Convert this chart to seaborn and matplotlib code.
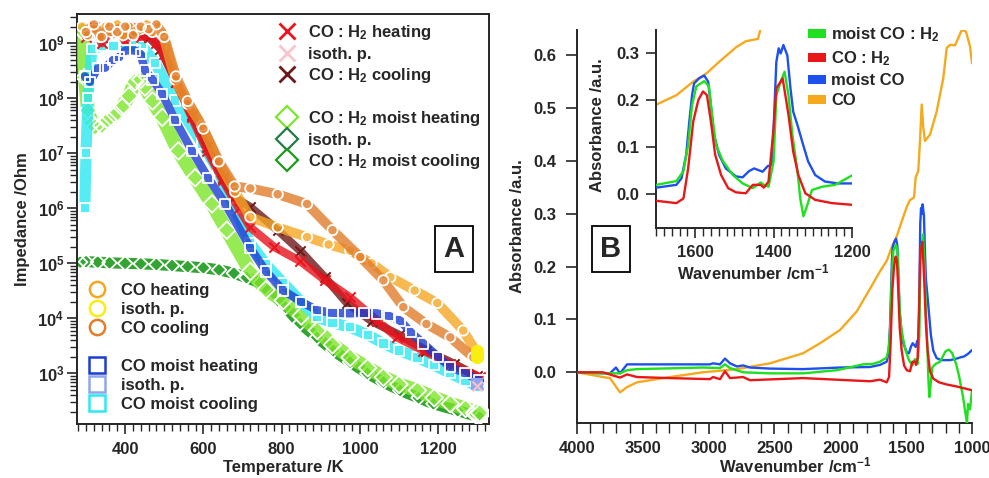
import numpy as np
import pandas as pd
import matplotlib
matplotlib.use("Agg")
import matplotlib.pyplot as plt
import seaborn as sns
from matplotlib.lines import Line2D
from matplotlib.patches import Patch
from matplotlib.ticker import MultipleLocator, LogLocator, NullFormatter, FormatStrFormatter

# ---------------- Panel A data (Temperature / K, Impedance / Ohm) ----------------
co_heat_T = [290, 305, 320, 335, 350, 365, 380, 395, 410, 425, 440, 455, 470, 485, 495,
             528, 560, 597, 638, 681, 720, 790, 865, 920, 975, 1030, 1078, 1140, 1198, 1264, 1300]
co_heat_Z = [2.0e9, 1.4e9, 1.8e9, 1.3e9, 2.0e9, 1.6e9, 2.2e9, 1.4e9, 2.0e9, 1.6e9, 1.8e9, 2.2e9, 1.6e9, 2.0e9, 1.6e9,
             2.2e8, 7.9e7, 3.2e7, 7.1e6, 2.0e6, 6.9e5, 4.5e5, 3.0e5, 2.2e5, 1.7e5, 1.0e5, 5.6e4, 3.2e4, 1.9e4, 6.0e3, 2.3e3]

co_cool_T = [300, 320, 340, 360, 380, 400, 420, 440, 460, 480, 500,
             530, 560, 600, 640, 680, 720, 790, 865, 930, 1001, 1060, 1111, 1170, 1231, 1290]
co_cool_Z = [1.6e9, 2.2e9, 1.3e9, 2.0e9, 1.6e9, 2.0e9, 1.4e9, 2.0e9, 1.8e9, 2.2e9, 1.3e9,
             2.5e8, 8.9e7, 2.8e7, 7.1e6, 2.5e6, 2.3e6, 1.8e6, 1.2e6, 4.0e5, 1.3e5, 4.9e4, 1.6e4, 7.9e3, 4.5e3, 1.95e3]

h2_heat_T = [300, 320, 340, 360, 380, 400, 420, 440, 460, 480,
             500, 530, 570, 610, 650, 690, 720, 780, 847, 910, 975, 1044, 1095, 1162, 1231, 1306]
h2_heat_Z = [1.3e9, 2.0e9, 1.0e9, 1.6e9, 1.8e9, 1.1e9, 2.0e9, 1.3e9, 1.4e9, 1.0e9,
             6.3e8, 2.0e8, 4.5e7, 1.1e7, 3.2e6, 1.0e6, 4.5e5, 2.0e5, 1.1e5, 5.0e4, 2.4e4, 9.1e3, 4.5e3, 2.6e3, 1.5e3, 8.5e2]

h2_cool_T = [310, 340, 370, 400, 430, 460, 490, 530, 570, 610, 650, 678,
             720, 790, 847, 910, 967, 1030, 1100, 1170, 1240, 1300]
h2_cool_Z = [1.6e9, 1.3e9, 1.8e9, 1.4e9, 1.6e9, 1.3e9, 7.9e8, 2.0e8, 5.0e7, 1.3e7, 3.5e6, 1.6e6,
             1.05e6, 4.0e5, 1.7e5, 5.6e4, 1.9e4, 8.9e3, 5.0e3, 2.6e3, 1.5e3, 8.9e2]

moist_heat_T = [297, 310, 330, 349, 370, 385, 400, 425, 440, 451, 470, 495, 528, 571, 612, 656,
                720, 760, 804, 850, 891, 930, 975, 1010, 1044, 1075, 1103, 1130, 1162, 1200, 1231, 1270, 1306]
moist_heat_Z = [2.5e8, 2.0e8, 3.5e8, 3.6e8, 5.0e8, 5.6e8, 7.4e8, 7.4e8, 6.3e8, 3.2e8, 2.2e8, 1.2e8, 4.0e7, 1.1e7, 3.6e6, 1.2e6,
                1.9e5, 7.1e4, 3.2e4, 2.0e4, 1.4e4, 1.26e4, 1.23e4, 1.26e4, 1.23e4, 1.1e4, 9.1e3, 5.6e3, 3.5e3, 2.0e3, 1.3e3, 1.0e3, 7.4e2]

moist_cool_T = [297, 300, 305, 315, 340, 370, 400, 443, 477, 528, 597, 638, 680,
                720, 760, 804, 850, 891, 930, 975, 1020, 1060, 1100, 1147, 1190, 1231, 1270, 1306]
moist_cool_Z = [1.0e6, 1.0e7, 1.0e8, 7.9e8, 8.9e8, 8.9e8, 8.9e8, 8.9e8, 4.4e8, 9.1e7, 1.5e7, 4.9e6, 1.0e6,
                2.3e5, 9.5e4, 4.4e4, 2.0e4, 1.05e4, 8.3e3, 6.9e3, 5.0e3, 3.5e3, 2.6e3, 1.95e3, 1.4e3, 1.0e3, 7.4e2, 5.6e2]

h2m_heat_T = [290, 297, 305, 315, 323, 340, 356, 375, 392, 410, 425, 440, 451, 470, 495, 536, 579, 622, 660,
              720, 760, 804, 850, 891, 930, 975, 1020, 1060, 1100, 1147, 1190, 1231, 1270, 1306]
h2m_heat_Z = [1.7e9, 2.4e8, 6.0e7, 3.5e7, 3.0e7, 3.2e7, 4.0e7, 5.0e7, 6.9e7, 1.1e8, 2.0e8, 2.2e8, 1.6e8, 8.9e7, 4.5e7, 1.1e7, 3.6e6, 1.2e6, 4.0e5,
              7.1e4, 3.3e4, 2.1e4, 1.1e4, 6.0e3, 3.3e3, 1.95e3, 1.26e3, 8.5e2, 6.3e2, 4.9e2, 3.6e2, 2.8e2, 2.3e2, 1.9e2]

h2m_cool_T = [285, 300, 330, 360, 400, 440, 480, 520, 560, 600, 640, 678, 710, 745, 780, 810,
              847, 890, 932, 975, 1019, 1060, 1103, 1150, 1188, 1250, 1306]
h2m_cool_Z = [1.05e5, 1.07e5, 1.05e5, 1.02e5, 1.0e5, 9.8e4, 9.5e4, 9.1e4, 8.7e4, 8.3e4, 7.6e4, 6.6e4, 5.5e4, 4.4e4, 2.8e4, 1.6e4,
              8.1e3, 4.5e3, 2.6e3, 1.6e3, 1.0e3, 6.9e2, 4.9e2, 3.6e2, 2.8e2, 2.1e2, 1.6e2]

iso_co_T = [1300, 1300, 1300]
iso_co_Z = [2.0e3, 2.3e3, 2.6e3]
iso_moist_T = [1300]
iso_moist_Z = [6.3e2]
iso_h2_T = [1300]
iso_h2_Z = [6.0e2]
iso_h2m_T = [1303]
iso_h2m_Z = [1.9e2]

# ---------------- Panel B data (wavenumber / cm-1, absorbance / a.u.) ----------------
co_wn = [4000, 3802, 3750, 3696, 3673, 3620, 3544, 3294, 3043, 2785, 2534, 2283, 2154, 2003, 1876, 1775,
         1699, 1648, 1605, 1572, 1539, 1496, 1471, 1440, 1428, 1408, 1395, 1382, 1370, 1357, 1319,
         1268, 1218, 1192, 1167, 1129, 1104, 1078, 1046, 1015, 1000]
co_abs = [0.0, -0.009, -0.011, -0.030, -0.038, -0.028, -0.019, -0.009, 0.0, 0.006, 0.017, 0.036, 0.055, 0.080, 0.115, 0.158,
          0.191, 0.211, 0.240, 0.257, 0.282, 0.313, 0.326, 0.331, 0.369, 0.381, 0.438, 0.507, 0.463, 0.438, 0.450,
          0.494, 0.557, 0.614, 0.620, 0.619, 0.633, 0.648, 0.645, 0.617, 0.585]

moist_co_wn = [4000, 3802, 3750, 3704, 3673, 3620, 3294, 2990, 2967, 2914,
               2876, 2838, 2785, 2739, 2686, 2534, 2283, 2003, 1775, 1699,
               1648, 1635, 1623, 1615, 1608, 1603, 1590, 1577, 1567, 1560,
               1552, 1539, 1522, 1496, 1479, 1463, 1450, 1428, 1415, 1405,
               1400, 1393, 1387, 1382, 1375, 1365, 1357, 1350, 1339, 1327,
               1312, 1294, 1269, 1236, 1193, 1167, 1130, 1091, 1060, 1030, 1000]
moist_co_abs = [0.0, -0.002, -0.002, 0.009, -0.002, 0.015, 0.015, 0.015, 0.017, 0.015,
                0.026, 0.017, 0.011, 0.013, 0.009, 0.007, 0.006, 0.009, 0.010, 0.014,
                0.020, 0.034, 0.084, 0.155, 0.211, 0.236, 0.247, 0.253, 0.240, 0.190,
                0.126, 0.084, 0.055, 0.038, 0.036, 0.049, 0.055, 0.048, 0.060, 0.062,
                0.140, 0.282, 0.311, 0.300, 0.318, 0.296, 0.226, 0.176, 0.147, 0.112,
                0.070, 0.041, 0.027, 0.023, 0.023, 0.023, 0.025, 0.028, 0.030, 0.035, 0.042]

moist_h2_wn = [4000, 3802, 3673, 3620, 3544, 3043, 2914, 2876, 2838, 2739,
               2534, 2283, 2025, 1828, 1752, 1699, 1648, 1630, 1618, 1608,
               1597, 1577, 1565, 1557, 1547, 1529, 1504, 1479, 1453, 1433,
               1425, 1413, 1400, 1393, 1382, 1372, 1362, 1352, 1339, 1332,
               1324, 1314, 1302, 1276, 1243, 1200, 1175, 1150, 1120, 1100,
               1068, 1045, 1038, 1030, 1015, 1000]
moist_h2_abs = [0.0, -0.002, -0.002, 0.004, 0.006, 0.009, 0.008, 0.015, 0.008, 0.0,
                -0.002, -0.002, 0.004, 0.015, 0.016, 0.020, 0.028, 0.049, 0.105, 0.190,
                0.230, 0.241, 0.230, 0.169, 0.105, 0.070, 0.041, 0.023, 0.013, 0.025,
                0.020, 0.016, 0.070, 0.211, 0.240, 0.261, 0.211, 0.126, 0.048, -0.009,
                -0.047, -0.023, 0.009, 0.016, 0.020, 0.040, 0.043, 0.036, 0.015, -0.005,
                -0.047, -0.085, -0.096, -0.060, -0.070, -0.034]

h2_wn = [4000, 3802, 3727, 3673, 3620, 3544, 3294, 2990, 2967, 2914,
         2876, 2838, 2739, 2686, 2283, 1775, 1699, 1648, 1630, 1618,
         1605, 1592, 1580, 1570, 1560, 1549, 1534, 1516, 1496, 1471,
         1453, 1433, 1425, 1413, 1400, 1393, 1382, 1377, 1370, 1362,
         1350, 1337, 1319, 1294, 1251, 1193, 1114, 1000]
h2_abs = [0.0, 0.0, -0.006, -0.010, -0.004, -0.009, -0.011, -0.013, -0.009, -0.013,
          0.002, -0.011, -0.009, -0.015, -0.011, -0.017, -0.014, -0.019, -0.009, 0.055,
          0.155, 0.201, 0.219, 0.211, 0.155, 0.084, 0.041, 0.013, 0.004, 0.002,
          0.020, 0.020, 0.014, 0.027, 0.140, 0.226, 0.240, 0.247, 0.211, 0.169,
          0.091, 0.041, 0.002, -0.012, -0.019, -0.023, -0.027, -0.034]

# ---------------- style ----------------
sns.set_style("ticks")
plt.rcParams["font.family"] = ["Liberation Sans", "DejaVu Sans"]
plt.rcParams["font.weight"] = "bold"
plt.rcParams["axes.labelweight"] = "bold"
plt.rcParams["mathtext.fontset"] = "custom"
plt.rcParams["mathtext.rm"] = "Liberation Sans:bold"
plt.rcParams["mathtext.it"] = "Liberation Sans:bold"
plt.rcParams["mathtext.bf"] = "Liberation Sans:bold"
plt.rcParams["mathtext.default"] = "rm"

FS = 12
fig = plt.figure(figsize=(9.89, 4.78), dpi=100)
W, H = 989.0, 478.0


def px_axes(l, t, r, b):
    return fig.add_axes([l / W, 1 - b / H, (r - l) / W, (b - t) / H])


# ================= Panel A =================
axA = px_axes(77, 14, 489, 424)
axA.set_yscale("log")

C_CO_HEAT = "#F5A623"
C_CO_ISO = "#F8EE10"
C_CO_COOL = "#E27D2A"
C_H2_HEAT = "#E8141E"
C_H2_ISO = "#F9C4CC"
C_H2_COOL = "#701818"
C_M_HEAT = "#1C3CD2"
C_M_ISO = "#8FA6EC"
C_M_COOL = "#2CE8F2"
C_HM_HEAT = "#7CE62A"
C_HM_ISO = "#237A45"
C_HM_COOL = "#1C9A1C"


def band(ax, T, Z, color, marker, lw=7.0, alpha=0.8, s=55, z=2):
    df = pd.DataFrame({"T": T, "Z": Z})
    sns.lineplot(data=df, x="T", y="Z", ax=ax, color=color, lw=lw, alpha=alpha,
                 sort=False, estimator=None, solid_capstyle="round", zorder=z)
    if marker in ("x", "+"):
        sns.scatterplot(data=df, x="T", y="Z", ax=ax, color=color, marker=marker,
                        s=s, linewidth=1.4, zorder=z + 0.5)
    else:
        sns.scatterplot(data=df, x="T", y="Z", ax=ax, color=color, facecolor="none",
                        marker=marker, s=s, linewidth=1.3, zorder=z + 0.5)


band(axA, h2m_cool_T, h2m_cool_Z, C_HM_COOL, "D", lw=8, alpha=0.9, z=2)
band(axA, h2m_heat_T, h2m_heat_Z, C_HM_HEAT, "D", lw=10, z=3, s=80)
band(axA, moist_cool_T, moist_cool_Z, C_M_COOL, "s", lw=8, z=4)
band(axA, h2_cool_T, h2_cool_Z, C_H2_COOL, "x", lw=6, z=5)
band(axA, h2_heat_T, h2_heat_Z, C_H2_HEAT, "x", lw=6, z=6)
band(axA, moist_heat_T, moist_heat_Z, C_M_HEAT, "s", lw=6, z=7)
band(axA, co_heat_T, co_heat_Z, C_CO_HEAT, "o", lw=7, z=8)
band(axA, co_cool_T, co_cool_Z, C_CO_COOL, "o", lw=7, z=9)

sns.scatterplot(x=iso_co_T, y=iso_co_Z, ax=axA, color=C_CO_ISO, marker="o", s=90, linewidth=0, zorder=12)
sns.scatterplot(x=iso_moist_T, y=iso_moist_Z, ax=axA, color=C_M_ISO, marker="s", s=80, linewidth=0, zorder=12)
sns.scatterplot(x=iso_h2_T, y=iso_h2_Z, ax=axA, color=C_H2_ISO, marker="x", s=50, linewidth=1.5, zorder=13)
sns.scatterplot(x=iso_h2m_T, y=iso_h2m_Z, ax=axA, color=C_HM_ISO, facecolor="none", marker="D", s=160,
                linewidth=2.0, zorder=13)

axA.set_xlim(277, 1330)
axA.set_ylim(1.2e2, 3.4e9)
axA.xaxis.set_major_locator(MultipleLocator(200))
axA.xaxis.set_minor_locator(MultipleLocator(20))
axA.yaxis.set_major_locator(LogLocator(base=10, numticks=20))
axA.yaxis.set_minor_locator(LogLocator(base=10, subs=np.arange(2, 10), numticks=100))
axA.yaxis.set_minor_formatter(NullFormatter())
axA.tick_params(axis="both", which="major", direction="out", length=7, width=1.2, labelsize=FS)
axA.tick_params(axis="both", which="minor", direction="out", length=5, width=1.0)
axA.tick_params(axis="x", which="major", pad=6)
axA.tick_params(axis="y", which="major", pad=2)
for sp in axA.spines.values():
    sp.set_linewidth(1.4)
    sp.set_visible(True)
axA.set_xlabel("Temperature /K", fontsize=FS, fontweight="bold")
axA.set_ylabel("Impedance /Ohm", fontsize=FS, fontweight="bold")
axA.xaxis.set_label_coords(0.5, -0.087)
axA.yaxis.set_label_coords(-0.114, 0.5)

blank = Line2D([], [], linestyle="none", marker=None)
hA1 = [Line2D([], [], ls="none", marker="x", color=C_H2_HEAT, ms=11, mew=2),
       Line2D([], [], ls="none", marker="x", color=C_H2_ISO, ms=11, mew=2),
       Line2D([], [], ls="none", marker="x", color=C_H2_COOL, ms=11, mew=2),
       blank,
       Line2D([], [], ls="none", marker="D", color=C_HM_HEAT, mfc="none", ms=11, mew=1.6),
       Line2D([], [], ls="none", marker="D", color=C_HM_ISO, mfc="none", ms=11, mew=1.6),
       Line2D([], [], ls="none", marker="D", color=C_HM_COOL, mfc="none", ms=11, mew=1.6)]
lA1 = ["CO : H$_2$ heating", "isoth. p.", "CO : H$_2$ cooling", " ",
       "CO : H$_2$ moist heating", "isoth. p.", "CO : H$_2$ moist cooling"]
legA1 = axA.legend(hA1, lA1, loc="upper left", bbox_to_anchor=(277 / W, 1 - 23 / H),
                   bbox_transform=fig.transFigure, frameon=False, fontsize=FS, handlelength=1.2,
                   handletextpad=0.65, labelspacing=0.27, borderpad=0, borderaxespad=0)
axA.add_artist(legA1)

hA2 = [Line2D([], [], ls="none", marker="o", color=C_CO_HEAT, mfc="none", ms=11, mew=1.8),
       Line2D([], [], ls="none", marker="o", color=C_CO_ISO, mfc="none", ms=11, mew=1.8),
       Line2D([], [], ls="none", marker="o", color=C_CO_COOL, mfc="none", ms=11, mew=1.8),
       blank,
       Line2D([], [], ls="none", marker="s", color=C_M_HEAT, mfc="none", ms=11, mew=1.8),
       Line2D([], [], ls="none", marker="s", color=C_M_ISO, mfc="none", ms=11, mew=1.8),
       Line2D([], [], ls="none", marker="s", color=C_M_COOL, mfc="none", ms=11, mew=1.8)]
lA2 = ["CO heating", "isoth. p.", "CO cooling", " ",
       "CO moist heating", "isoth. p.", "CO moist cooling"]
axA.legend(hA2, lA2, loc="upper left", bbox_to_anchor=(87 / W, 1 - 283 / H),
           bbox_transform=fig.transFigure, frameon=False, fontsize=FS, handlelength=1.2,
           handletextpad=0.85, labelspacing=0.24, borderpad=0, borderaxespad=0)

axA.text(0.915, 0.427, "A", transform=axA.transAxes, ha="center", va="center", fontsize=21,
         fontweight="bold", zorder=20,
         bbox=dict(boxstyle="square,pad=0.3", fc="white", ec="black", lw=1.3))

# ================= Panel B =================
axB = px_axes(577, 30, 972, 423)
C_G = "#1EE01E"
C_R = "#E81818"
C_B = "#1E50F0"
C_O = "#F5AA1E"


def spec(ax, wn, a, color, z):
    df = pd.DataFrame({"wn": wn, "A": a})
    sns.lineplot(data=df, x="wn", y="A", ax=ax, color=color, lw=1.7, sort=False,
                 estimator=None, zorder=z)


spec(axB, co_wn, co_abs, C_O, 2)
spec(axB, moist_co_wn, moist_co_abs, C_B, 3)
spec(axB, moist_h2_wn, moist_h2_abs, C_G, 4)
spec(axB, h2_wn, h2_abs, C_R, 5)

axB.set_xlim(4000, 1000)
axB.set_ylim(-0.096, 0.648)
axB.xaxis.set_major_locator(MultipleLocator(500))
axB.xaxis.set_minor_locator(MultipleLocator(100))
axB.yaxis.set_major_locator(MultipleLocator(0.1))
axB.yaxis.set_major_formatter(FormatStrFormatter("%.1f"))
axB.tick_params(axis="both", which="major", direction="out", length=8, width=1.2, labelsize=FS)
axB.tick_params(axis="both", which="minor", direction="out", length=7, width=1.0)
axB.tick_params(axis="x", which="major", pad=5)
axB.tick_params(axis="y", which="major", pad=7)
axB.spines["top"].set_visible(False)
axB.spines["right"].set_visible(False)
for s in ("left", "bottom"):
    axB.spines[s].set_linewidth(1.4)
axB.set_xlabel("Wavenumber /cm$^{-1}$", fontsize=FS, fontweight="bold")
axB.set_ylabel("Absorbance /a.u.", fontsize=FS, fontweight="bold")
axB.xaxis.set_label_coords(0.552, -0.082)
axB.yaxis.set_label_coords(-0.132, 0.5)

hB = [Patch(facecolor=C_G, edgecolor="none"), Patch(facecolor=C_R, edgecolor="none"),
      Patch(facecolor=C_B, edgecolor="none"), Patch(facecolor=C_O, edgecolor="none")]
lB = ["moist CO : H$_2$", "CO : H$_2$", "moist CO", "CO"]
axB.legend(hB, lB, loc="upper left", bbox_to_anchor=(808 / W, 1 - 25 / H),
           bbox_transform=fig.transFigure, frameon=False, fontsize=FS, handlelength=1.05,
           handleheight=0.45, handletextpad=0.35, labelspacing=0.32, borderpad=0, borderaxespad=0)

axB.text(0.086, 0.443, "B", transform=axB.transAxes, ha="center", va="center", fontsize=21,
         fontweight="bold", zorder=20,
         bbox=dict(boxstyle="square,pad=0.3", fc="white", ec="black", lw=1.3))

# ---- inset ----
axI = px_axes(656, 30, 852, 228)
axI.patch.set_alpha(0.0)
spec(axI, co_wn, co_abs, C_O, 2)
spec(axI, moist_co_wn, moist_co_abs, C_B, 3)
spec(axI, moist_h2_wn, moist_h2_abs, C_G, 4)
spec(axI, h2_wn, h2_abs, C_R, 5)
axI.set_xlim(1700, 1200)
axI.set_ylim(-0.072, 0.35)
axI.xaxis.set_major_locator(MultipleLocator(200))
axI.xaxis.set_minor_locator(MultipleLocator(20))
axI.yaxis.set_major_locator(MultipleLocator(0.1))
axI.yaxis.set_major_formatter(FormatStrFormatter("%.1f"))
axI.tick_params(axis="both", which="major", direction="out", length=7, width=1.2, labelsize=FS)
axI.tick_params(axis="both", which="minor", direction="out", length=6, width=1.0)
axI.tick_params(axis="x", which="major", pad=5)
axI.tick_params(axis="y", which="major", pad=5)
axI.spines["top"].set_visible(False)
axI.spines["right"].set_visible(False)
for s in ("left", "bottom"):
    axI.spines[s].set_linewidth(1.4)
axI.set_xlabel("Wavenumber /cm$^{-1}$", fontsize=FS, fontweight="bold")
axI.set_ylabel("Absorbance /a.u.", fontsize=FS, fontweight="bold")
axI.xaxis.set_label_coords(0.495, -0.175)
axI.yaxis.set_label_coords(-0.26, 0.52)

fig.savefig("out.png", dpi=100)
